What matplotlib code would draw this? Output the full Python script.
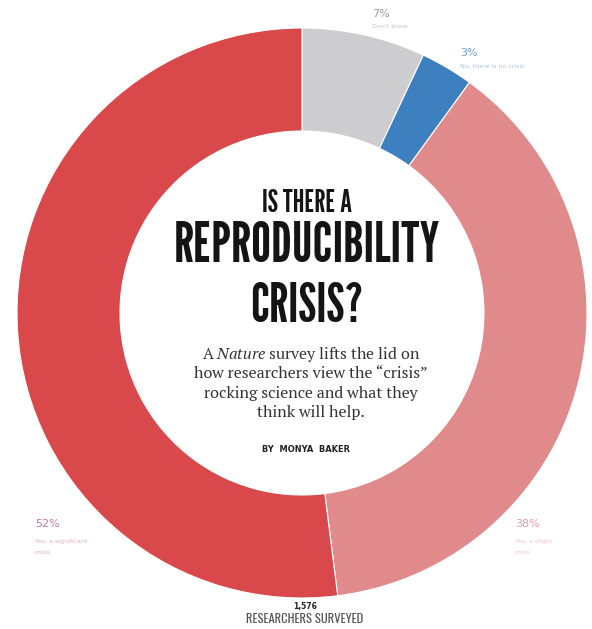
import matplotlib
matplotlib.use('Agg')
import matplotlib.pyplot as plt

# survey answers, clockwise from the top
labels = ["Don't know", "No, there is no crisis", "Yes, a slight crisis", "Yes, a significant crisis"]
shares = [7, 3, 38, 52]
colors = ['#cdcdcf', '#3e7fbf', '#e08a8b', '#d9494c']
n_surveyed = "1,576"

headline = ["IS THERE A", "REPRODUCIBILITY", "CRISIS?"]
body = [r"A $\it{Nature}$ survey lifts the lid on",
        "how researchers view the \u201ccrisis\u201d",
        "rocking science and what they",
        "think will help."]
byline = "BY  MONYA  BAKER"

plt.rcParams['mathtext.fontset'] = 'custom'
plt.rcParams['mathtext.rm'] = 'PT Serif'
plt.rcParams['mathtext.it'] = 'PT Serif:italic'

W, H = 592, 629
fig = plt.figure(figsize=(W / 100, H / 100), dpi=100)
ax = fig.add_axes([0, 0, 1, 1])

cx, cy = 302, H - 313
R = 285
ax.pie(shares, colors=colors, startangle=90, counterclock=False,
       center=(cx, cy), radius=R,
       wedgeprops=dict(width=R - 182, edgecolor='white', linewidth=0.8))
ax.set_xlim(0, W)
ax.set_ylim(0, H)
ax.axis('off')

def y(v):
    return H - v

renderer = fig.canvas.get_renderer()

def fitted(xc, yc, s, width, **kw):
    # shrink/grow the font so the line spans about `width` pixels
    t = ax.text(xc, y(yc), s, ha='center', va='center', **kw)
    w = t.get_window_extent(renderer).width
    t.set_fontsize(t.get_fontsize() * width / w)
    return t

gothic = ['League Gothic', 'Oswald', 'DejaVu Sans']
fitted(307, 204, headline[0], 90, family=gothic, fontsize=30, color='#141414')
fitted(307, 246, headline[1], 266, family=gothic, fontsize=50, color='#141414')
fitted(307, 307, headline[2], 113, family=gothic, fontsize=50, color='#141414')

for i, line in enumerate(body):
    ax.text(311, y(355 + i * 19), line, ha='center', va='center',
            family='PT Serif', fontsize=11.5, color='#333333')
fitted(306, 450, byline, 88, family='DejaVu Sans', weight='bold',
       fontsize=5.5, color='#222222')

# slice labels
small = dict(family='DejaVu Sans', fontsize=4.5, alpha=0.6)
ax.text(372, y(14), f"{shares[0]}%", color='#9a9aa0', fontsize=8, family='DejaVu Sans', va='center')
ax.text(372, y(26), labels[0], color='#9a9aa0', va='center', **small)
ax.text(460, y(53), f"{shares[1]}%", color='#6f9fd0', fontsize=8, family='DejaVu Sans', va='center')
ax.text(460, y(66), labels[1], color='#6f9fd0', va='center', **small)
ax.text(35, y(524), f"{shares[3]}%", color='#c47aa0', fontsize=8, family='DejaVu Sans', va='center')
ax.text(35, y(541), "Yes, a significant", color='#c47aa0', va='center', **small)
ax.text(35, y(553), "crisis", color='#c47aa0', va='center', **small)
ax.text(515, y(524), f"{shares[2]}%", color='#e59ab0', fontsize=8, family='DejaVu Sans', va='center')
ax.text(515, y(541), "Yes, a slight", color='#e59ab0', va='center', **small)
ax.text(515, y(553), "crisis", color='#e59ab0', va='center', **small)

# total
ax.text(305, y(607), n_surveyed, ha='center', va='center', family='DejaVu Sans',
        weight='bold', fontsize=5.5, color='#222222')
fitted(305, 619, "RESEARCHERS SURVEYED", 118, family=['Oswald', 'DejaVu Sans'],
       fontsize=6, color='#555555')

fig.savefig('out.png', dpi=100, facecolor='white')
